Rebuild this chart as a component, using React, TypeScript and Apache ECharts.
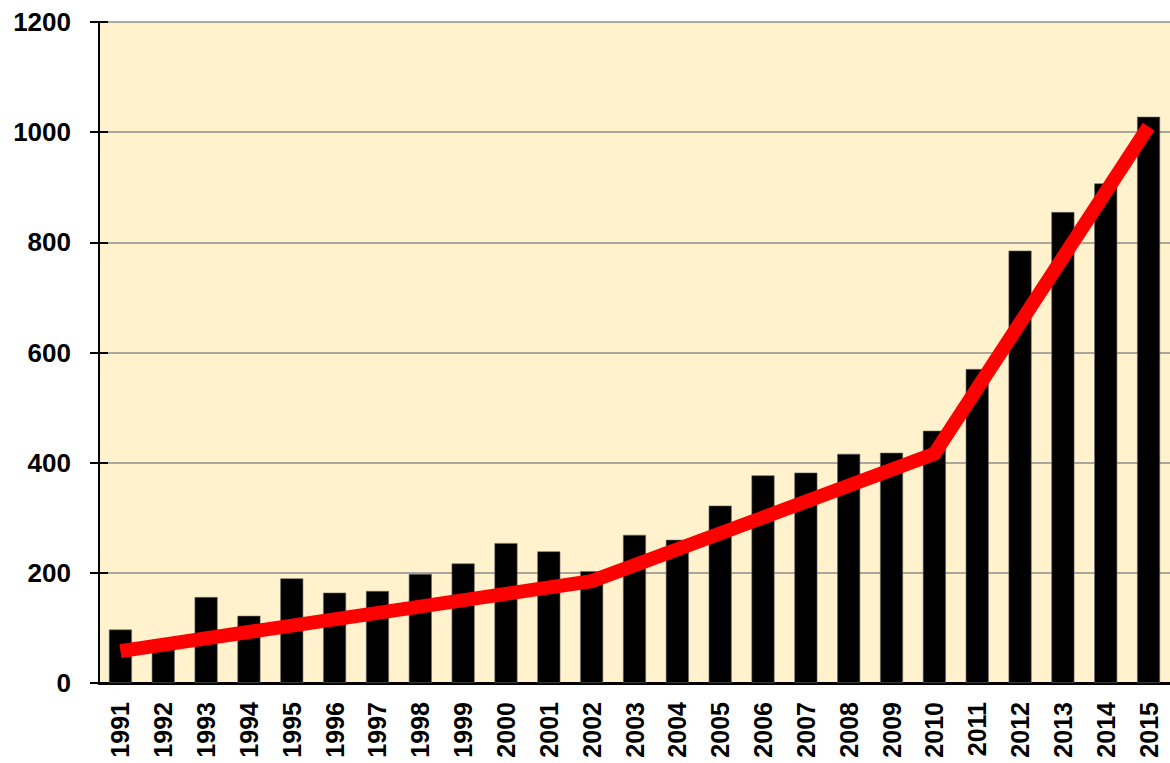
import React, { useEffect, useRef } from "react";
import * as echarts from "echarts";

const years = [
  "1991", "1992", "1993", "1994", "1995", "1996", "1997", "1998", "1999", "2000",
  "2001", "2002", "2003", "2004", "2005", "2006", "2007", "2008", "2009", "2010",
  "2011", "2012", "2013", "2014", "2015",
];
const barValues = [
  97, 65, 156, 122, 190, 164, 167, 198, 217, 254,
  239, 203, 269, 260, 322, 377, 382, 416, 418, 458,
  570, 785, 855, 907, 1028,
];
const trendValues: (number | null)[] = [
  58, null, null, null, null, null, null, null, null, null,
  null, 185, null, null, null, null, null, null, null, 416,
  null, null, null, null, 1010,
];
const yTicks = [0, 200, 400, 600, 800, 1000, 1200];

const FONT = "'Liberation Sans', Arial, sans-serif";

export default function App() {
  const ref = useRef<HTMLDivElement>(null);
  useEffect(() => {
    if (!ref.current) return;
    const chart = echarts.init(ref.current, null, { renderer: "svg" });
    const yMin = yTicks[0];
    const yMax = yTicks[yTicks.length - 1];
    const yInterval = yTicks[1] - yTicks[0];
    chart.setOption({
      animation: false,
      backgroundColor: "#ffffff",
      grid: {
        left: 99,
        right: -4,
        top: 22,
        bottom: 80,
        show: true,
        backgroundColor: "#FFF2CC",
        borderWidth: 0,
        containLabel: false,
      },
      xAxis: {
        type: "category",
        data: years,
        boundaryGap: true,
        axisLine: { show: true, lineStyle: { color: "#000", width: 3 } },
        axisTick: { show: false },
        axisLabel: {
          rotate: 90,
          margin: 19,
          interval: 0,
          color: "#000",
          fontFamily: FONT,
          fontWeight: "bold",
          fontSize: 25,
        },
        splitLine: { show: false },
      },
      yAxis: [
        {
          type: "value",
          min: yMin,
          max: yMax,
          interval: yInterval,
          axisLine: { show: true, lineStyle: { color: "#000", width: 2 } },
          axisTick: { show: true, inside: false, length: 9, lineStyle: { color: "#000", width: 2 } },
          axisLabel: {
            margin: 28,
            color: "#000",
            fontFamily: FONT,
            fontWeight: "bold",
            fontSize: 26,
            formatter: (v: number) => String(v),
          },
          splitLine: { show: true, lineStyle: { color: "#8c8c8c", width: 1.5 } },
        },
        {
          type: "value",
          position: "left",
          min: yMin,
          max: yMax,
          interval: yInterval,
          axisLine: { show: false },
          axisTick: { show: true, inside: true, length: 9, lineStyle: { color: "#000", width: 2 } },
          axisLabel: { show: false },
          splitLine: { show: false },
        },
      ],
      series: [
        {
          type: "bar",
          data: barValues,
          barWidth: 23,
          itemStyle: { color: "#000", borderColor: "#6b6b6b", borderWidth: 0.6 },
        },
        {
          type: "line",
          data: trendValues,
          connectNulls: true,
          showSymbol: false,
          symbol: "none",
          lineStyle: { color: "#FF0000", width: 14, cap: "butt", join: "miter" },
          z: 5,
        },
      ],
    });
    return () => chart.dispose();
  }, []);
  return (
    <div
      ref={ref}
      style={{ position: "fixed", left: 0, top: 0, width: 1170, height: 763 }}
    />
  );
}
